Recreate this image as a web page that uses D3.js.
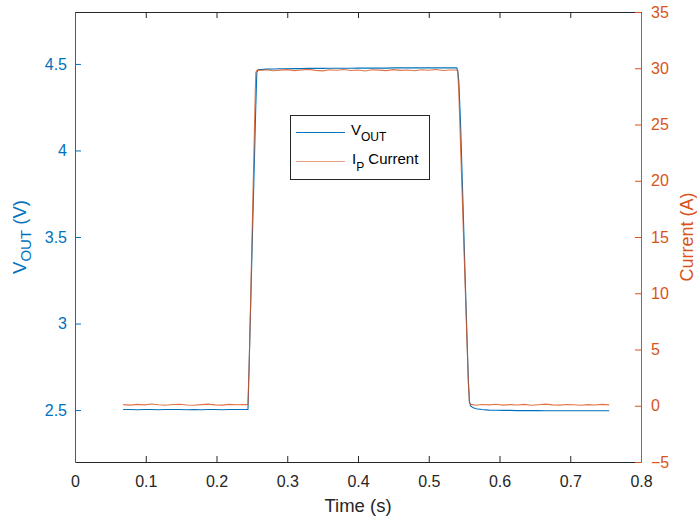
<!DOCTYPE html>
<html>
<head>
<meta charset="utf-8">
<script src="https://cdn.jsdelivr.net/npm/d3@7"></script>
<style>
  html, body { margin: 0; padding: 0; background: #fff; }
  svg { display: block; font-family: "Liberation Sans", Arial, Helvetica, sans-serif; }
</style>
</head>
<body>
<svg id="chart" width="697" height="516"></svg>
<script>
// ---- data ----
const time = [
  0.068, 0.078, 0.088, 0.098, 0.108, 0.118, 0.128, 0.138, 0.148, 0.158,
  0.168, 0.178, 0.188, 0.198, 0.208, 0.218, 0.228, 0.238, 0.2445, 0.2465,
  0.249, 0.2515, 0.254, 0.2555, 0.257, 0.259, 0.263, 0.27, 0.28, 0.29,
  0.30, 0.31, 0.32, 0.33, 0.34, 0.35, 0.36, 0.37, 0.38, 0.39,
  0.40, 0.41, 0.42, 0.43, 0.44, 0.45, 0.46, 0.47, 0.48, 0.49,
  0.50, 0.51, 0.52, 0.53, 0.5395, 0.541, 0.5425, 0.545, 0.548, 0.551,
  0.554, 0.556, 0.5575, 0.559, 0.562, 0.567, 0.575, 0.585, 0.595, 0.605,
  0.615, 0.625, 0.635, 0.645, 0.655, 0.665, 0.675, 0.685, 0.695, 0.705,
  0.715, 0.725, 0.735, 0.745, 0.755
];
const vout = [
  2.503, 2.503, 2.502, 2.503, 2.503, 2.502, 2.503, 2.503, 2.503, 2.502,
  2.503, 2.502, 2.503, 2.503, 2.502, 2.503, 2.503, 2.503, 2.504, 2.82,
  3.22, 3.62, 4.01, 4.25, 4.45, 4.466, 4.468, 4.470, 4.471, 4.472,
  4.472, 4.473, 4.473, 4.474, 4.474, 4.474, 4.475, 4.475, 4.475, 4.475,
  4.476, 4.476, 4.476, 4.476, 4.476, 4.477, 4.477, 4.477, 4.477, 4.477,
  4.477, 4.477, 4.477, 4.477, 4.477, 4.46, 4.40, 4.15, 3.75, 3.33,
  2.93, 2.67, 2.55, 2.525, 2.515, 2.508, 2.503, 2.500, 2.499, 2.498,
  2.498, 2.497, 2.497, 2.497, 2.497, 2.496, 2.496, 2.496, 2.496, 2.496,
  2.496, 2.496, 2.496, 2.496, 2.496
];
const current = [
  0.10, 0.06, 0.12, 0.08, 0.15, 0.09, 0.05, 0.11, 0.13, 0.07,
  0.04, 0.10, 0.14, 0.08, 0.06, 0.12, 0.09, 0.11, 0.10, 4.4,
  11.5, 18.6, 25.7, 29.6, 29.8, 29.85, 29.80, 29.86, 29.78, 29.83,
  29.88, 29.79, 29.84, 29.90, 29.81, 29.77, 29.86, 29.82, 29.89, 29.80,
  29.84, 29.76, 29.87, 29.83, 29.79, 29.88, 29.81, 29.85, 29.78, 29.86,
  29.82, 29.89, 29.80, 29.84, 29.85, 29.7, 27.8, 23.0, 17.3, 11.6,
  5.8, 2.0, 0.3, 0.12, 0.10, 0.05, 0.11, 0.08, 0.13, 0.06,
  0.10, 0.07, 0.12, 0.05, 0.09, 0.14, 0.08, 0.06, 0.11, 0.09,
  0.04, 0.10, 0.07, 0.12, 0.08
];
const xTicks = [0, 0.1, 0.2, 0.3, 0.4, 0.5, 0.6, 0.7, 0.8];
const yLeftTicks = [2.5, 3, 3.5, 4, 4.5];
const yRightTicks = [-5, 0, 5, 10, 15, 20, 25, 30, 35];
const xDomain = [0, 0.8];
const yLeftDomain = [2.2, 4.8];
const yRightDomain = [-5, 35];

// ---- layout ----
const L = 75, R = 641, T = 12, B = 462;
const blue = "#0072BD", orange = "#D95319", dark = "#262626";
const svg = d3.select("#chart");

const x = d3.scaleLinear().domain(xDomain).range([L, R]);
const yL = d3.scaleLinear().domain(yLeftDomain).range([B, T]);
const yR = d3.scaleLinear().domain(yRightDomain).range([B, T]);
const fmt = d3.format("~g");

// top border with ticks
const gTop = svg.append("g").attr("transform", `translate(0,${T})`)
  .call(d3.axisTop(x).tickValues(xTicks).tickSizeInner(-6).tickSizeOuter(0).tickFormat(""));
gTop.select(".domain").attr("stroke", dark);
gTop.selectAll(".tick line").attr("stroke", dark);

// bottom axis
const gX = svg.append("g").attr("transform", `translate(0,${B})`)
  .call(d3.axisBottom(x).tickValues(xTicks).tickSizeInner(-6).tickSizeOuter(0).tickPadding(13.5).tickFormat(fmt));
gX.select(".domain").attr("stroke", dark);
gX.selectAll(".tick line").attr("stroke", dark);
gX.selectAll(".tick text").attr("fill", dark).style("font-size", "16px")
  .style("font-family", "'Liberation Sans', Arial, sans-serif");

// left axis
const gL = svg.append("g").attr("transform", `translate(${L},0)`)
  .call(d3.axisLeft(yL).tickValues(yLeftTicks).tickSizeInner(-6).tickSizeOuter(0).tickPadding(8).tickFormat(fmt));
gL.select(".domain").attr("stroke", blue);
gL.selectAll(".tick line").attr("stroke", blue);
gL.selectAll(".tick text").attr("fill", blue).style("font-size", "16px")
  .style("font-family", "'Liberation Sans', Arial, sans-serif");

// right axis
const gR = svg.append("g").attr("transform", `translate(${R},0)`)
  .call(d3.axisRight(yR).tickValues(yRightTicks).tickSizeInner(-6).tickSizeOuter(0).tickPadding(10).tickFormat(fmt));
gR.select(".domain").attr("stroke", orange);
gR.selectAll(".tick line").attr("stroke", orange);
gR.selectAll(".tick text").attr("fill", orange).style("font-size", "16px")
  .style("font-family", "'Liberation Sans', Arial, sans-serif");

// lines
const pts = time.map((t, i) => ({ t, v: vout[i], c: current[i] }));
svg.append("path").datum(pts)
  .attr("fill", "none").attr("stroke", blue).attr("stroke-width", 1.1)
  .attr("d", d3.line().x(d => x(d.t)).y(d => yL(d.v)));
svg.append("path").datum(pts)
  .attr("fill", "none").attr("stroke", orange).attr("stroke-width", 1.1).attr("stroke-opacity", 0.8)
  .attr("d", d3.line().x(d => x(d.t)).y(d => yR(d.c)));

// axis labels
svg.append("text").attr("x", (L + R) / 2).attr("y", 512).attr("text-anchor", "middle")
  .attr("fill", dark).style("font-size", "18.5px").text("Time (s)");

const vl = svg.append("text").attr("transform", "translate(26,237) rotate(-90)")
  .attr("text-anchor", "middle").attr("fill", blue).style("font-size", "18.5px");
vl.append("tspan").text("V");
vl.append("tspan").attr("dy", 5).style("font-size", "15px").text("OUT");
vl.append("tspan").attr("dy", -5).text(" (V)");

svg.append("text").attr("transform", "translate(693,237) rotate(-90)")
  .attr("text-anchor", "middle").attr("fill", orange).style("font-size", "18px").text("Current (A)");

// legend
const lg = svg.append("g");
lg.append("rect").attr("x", 290.5).attr("y", 115.5).attr("width", 139).attr("height", 64)
  .attr("fill", "#fff").attr("stroke", dark).attr("stroke-width", 1);
lg.append("line").attr("x1", 296).attr("x2", 345).attr("y1", 132.5).attr("y2", 132.5)
  .attr("stroke", blue).attr("stroke-width", 1.1);
lg.append("line").attr("x1", 296).attr("x2", 345).attr("y1", 161.5).attr("y2", 161.5)
  .attr("stroke", orange).attr("stroke-width", 1.1).attr("stroke-opacity", 0.55);
const t1 = lg.append("text").attr("x", 351).attr("y", 135).attr("fill", "#000").style("font-size", "15px");
t1.append("tspan").text("V");
t1.append("tspan").attr("dy", 6).style("font-size", "12px").text("OUT");
const t2 = lg.append("text").attr("x", 352).attr("y", 164).attr("fill", "#000").style("font-size", "15px");
t2.append("tspan").text("I");
t2.append("tspan").attr("dy", 7).style("font-size", "12px").text("P");
t2.append("tspan").attr("dy", -7).text(" Current");
</script>
</body>
</html>
